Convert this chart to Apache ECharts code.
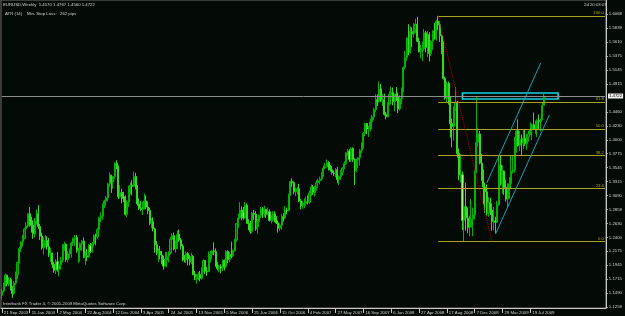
<!DOCTYPE html>
<html>
<head>
<meta charset="utf-8">
<script src="https://cdn.jsdelivr.net/npm/echarts@6.0.0/dist/echarts.min.js"></script>
<style>
  html, body { margin: 0; padding: 0; background: #040b07; }
  #chart { width: 625px; height: 316px; }
</style>
</head>
<body>
<div id="chart"></div>
<script>
// weekly EURUSD bars, [open, high, low, close], one list per year
var bars2003 = [
  [1.1450,1.1560,1.1380,1.1520],[1.1520,1.1660,1.1500,1.1600],[1.1600,1.1810,1.1580,1.1780],
  [1.1780,1.1790,1.1600,1.1640],[1.1640,1.1750,1.1600,1.1710],[1.1710,1.1740,1.1530,1.1560],
  [1.1560,1.1600,1.1410,1.1480],[1.1480,1.1680,1.1460,1.1650],[1.1650,1.1840,1.1620,1.1790],
  [1.1790,1.2000,1.1720,1.1990],[1.1990,1.2250,1.1970,1.2220],[1.2220,1.2340,1.2160,1.2330],
  [1.2330,1.2440,1.2250,1.2380],[1.2380,1.2560,1.2370,1.2540],[1.2540,1.2650,1.2460,1.2590]
];
var bars2004 = [
  [1.2590,1.2800,1.2560,1.2790],[1.2790,1.2900,1.2580,1.2620],[1.2620,1.2740,1.2480,1.2600],
  [1.2600,1.2680,1.2380,1.2460],[1.2460,1.2720,1.2400,1.2670],[1.2670,1.2860,1.2610,1.2790],
  [1.2790,1.2930,1.2540,1.2580],[1.2580,1.2620,1.2360,1.2420],[1.2420,1.2480,1.2200,1.2230],
  [1.2230,1.2400,1.2120,1.2320],[1.2320,1.2440,1.2240,1.2350],[1.2350,1.2420,1.2200,1.2250],
  [1.2250,1.2390,1.2080,1.2120],[1.2120,1.2230,1.2000,1.2140],[1.2140,1.2150,1.1900,1.1960],
  [1.1960,1.2000,1.1820,1.1860],[1.1860,1.2040,1.1800,1.2000],[1.2000,1.2160,1.1840,1.1880],
  [1.1880,1.1980,1.1760,1.1950],[1.1950,1.2080,1.1870,1.2030],[1.2030,1.2290,1.1990,1.2260],
  [1.2260,1.2330,1.2180,1.2290],[1.2290,1.2300,1.2000,1.2040],[1.2040,1.2180,1.1990,1.2130],
  [1.2130,1.2220,1.2060,1.2180],[1.2180,1.2330,1.2070,1.2310],[1.2310,1.2400,1.2260,1.2380],
  [1.2380,1.2440,1.2260,1.2400],[1.2400,1.2440,1.2150,1.2180],[1.2180,1.2230,1.1980,1.2190],
  [1.2190,1.2320,1.2000,1.2300],[1.2300,1.2360,1.2180,1.2340],[1.2340,1.2400,1.2060,1.2070],
  [1.2070,1.2170,1.1950,1.2100],[1.2100,1.2210,1.2010,1.2080],[1.2080,1.2290,1.2070,1.2270],
  [1.2270,1.2310,1.2140,1.2170],[1.2170,1.2320,1.2150,1.2300],[1.2300,1.2450,1.2250,1.2430],
  [1.2430,1.2460,1.2270,1.2410],[1.2410,1.2560,1.2370,1.2530],[1.2530,1.2740,1.2500,1.2720],
  [1.2720,1.2810,1.2650,1.2750],[1.2750,1.2960,1.2690,1.2940],[1.2940,1.3020,1.2880,1.3000],
  [1.3000,1.3080,1.2920,1.3050],[1.3050,1.3300,1.2990,1.3280],[1.3280,1.3470,1.3230,1.3420],
  [1.3420,1.3430,1.3130,1.3310],[1.3310,1.3410,1.3200,1.3400],[1.3400,1.3630,1.3360,1.3620],
  [1.3620,1.3667,1.3520,1.3560]
];
var bars2005 = [
  [1.3560,1.3580,1.3030,1.3070],[1.3070,1.3260,1.3040,1.3140],[1.3140,1.3200,1.2960,1.3070],
  [1.3070,1.3150,1.2980,1.3040],[1.3040,1.3090,1.2760,1.2780],[1.2780,1.3010,1.2730,1.2980],
  [1.2980,1.3250,1.2900,1.3230],[1.3230,1.3300,1.3110,1.3260],[1.3260,1.3340,1.3090,1.3240],
  [1.3240,1.3480,1.3230,1.3400],[1.3400,1.3460,1.3190,1.3220],[1.3220,1.3260,1.2920,1.2950],
  [1.2950,1.3040,1.2850,1.2880],[1.2880,1.3000,1.2830,1.2860],[1.2860,1.2990,1.2770,1.2880],
  [1.2880,1.3120,1.2860,1.3000],[1.3000,1.3090,1.2860,1.2900],[1.2900,1.2990,1.2780,1.2840],
  [1.2840,1.2890,1.2600,1.2630],[1.2630,1.2720,1.2550,1.2660],[1.2660,1.2730,1.2500,1.2540],
  [1.2540,1.2560,1.2150,1.2280],[1.2280,1.2340,1.2110,1.2140],[1.2140,1.2220,1.2000,1.2170],
  [1.2170,1.2260,1.2040,1.2110],[1.2110,1.2180,1.1960,1.2040],[1.2040,1.2100,1.1870,1.1930],
  [1.1930,1.2160,1.1920,1.2030],[1.2030,1.2160,1.1910,1.2090],[1.2090,1.2170,1.1990,1.2150],
  [1.2150,1.2410,1.2120,1.2370],[1.2370,1.2470,1.2290,1.2430],[1.2430,1.2480,1.2190,1.2210],
  [1.2210,1.2350,1.2150,1.2280],[1.2280,1.2510,1.2210,1.2450],[1.2450,1.2530,1.2330,1.2360],
  [1.2360,1.2390,1.2200,1.2260],[1.2260,1.2290,1.2010,1.2040],[1.2040,1.2110,1.1990,1.2030],
  [1.2030,1.2170,1.1980,1.2140],[1.2140,1.2160,1.1940,1.2050],[1.2050,1.2110,1.1940,1.2000],
  [1.2000,1.2150,1.1960,1.2090],[1.2090,1.2110,1.1780,1.1790],[1.1790,1.1850,1.1700,1.1720],
  [1.1720,1.1800,1.1640,1.1760],[1.1760,1.1830,1.1700,1.1790],[1.1790,1.1850,1.1680,1.1730],
  [1.1730,1.1910,1.1710,1.1850],[1.1850,1.2040,1.1830,1.2020],[1.2020,1.2030,1.1800,1.1850],
  [1.1850,1.1920,1.1770,1.1840]
];
var bars2006 = [
  [1.1840,1.2170,1.1830,1.2110],[1.2110,1.2180,1.1990,1.2120],[1.2120,1.2190,1.2040,1.2180],
  [1.2180,1.2320,1.2110,1.2170],[1.2170,1.2220,1.1920,1.1930],[1.1930,1.2000,1.1860,1.1890],
  [1.1890,1.1950,1.1830,1.1920],[1.1920,1.1960,1.1810,1.1900],[1.1900,1.2040,1.1850,1.2020],
  [1.2020,1.2040,1.1860,1.1920],[1.1920,1.2190,1.1900,1.2170],[1.2170,1.2190,1.1980,1.2040],
  [1.2040,1.2160,1.1990,1.2120],[1.2120,1.2330,1.2060,1.2100],[1.2100,1.2200,1.2080,1.2180],
  [1.2180,1.2380,1.2170,1.2360],[1.2360,1.2640,1.2330,1.2630],[1.2630,1.2790,1.2560,1.2720],
  [1.2720,1.2980,1.2700,1.2850],[1.2850,1.2910,1.2680,1.2810],[1.2810,1.2900,1.2690,1.2720],
  [1.2720,1.2980,1.2710,1.2930],[1.2930,1.2960,1.2620,1.2630],[1.2630,1.2700,1.2520,1.2620],
  [1.2620,1.2670,1.2460,1.2500],[1.2500,1.2820,1.2470,1.2800],[1.2800,1.2850,1.2690,1.2780],
  [1.2780,1.2830,1.2510,1.2540],[1.2540,1.2700,1.2460,1.2660],[1.2660,1.2780,1.2570,1.2760],
  [1.2760,1.2900,1.2720,1.2870],[1.2870,1.2900,1.2720,1.2790],[1.2790,1.2920,1.2740,1.2860],
  [1.2860,1.2860,1.2720,1.2780],[1.2780,1.2890,1.2760,1.2820],[1.2820,1.2860,1.2660,1.2680],
  [1.2680,1.2770,1.2630,1.2690],[1.2690,1.2830,1.2660,1.2790],[1.2790,1.2830,1.2650,1.2670],
  [1.2670,1.2750,1.2620,1.2640],[1.2640,1.2680,1.2480,1.2550],[1.2550,1.2630,1.2510,1.2600],
  [1.2600,1.2780,1.2530,1.2740],[1.2740,1.2800,1.2660,1.2720],[1.2720,1.2920,1.2700,1.2850],
  [1.2850,1.2890,1.2780,1.2840],[1.2840,1.3120,1.2830,1.3090],[1.3090,1.3330,1.3080,1.3320],
  [1.3320,1.3370,1.3230,1.3300],[1.3300,1.3320,1.3110,1.3150],[1.3150,1.3220,1.3080,1.3160],
  [1.3160,1.3230,1.3110,1.3200]
];
var bars2007 = [
  [1.3200,1.3280,1.2980,1.3000],[1.3000,1.3030,1.2860,1.2920],[1.2920,1.3000,1.2870,1.2950],
  [1.2950,1.3040,1.2880,1.2960],[1.2960,1.3070,1.2920,1.2990],[1.2990,1.3090,1.2940,1.2980],
  [1.2980,1.3170,1.2950,1.3130],[1.3130,1.3270,1.3080,1.3230],[1.3230,1.3260,1.3100,1.3140],
  [1.3140,1.3250,1.3070,1.3220],[1.3220,1.3340,1.3170,1.3300],[1.3300,1.3370,1.3260,1.3330],
  [1.3330,1.3400,1.3270,1.3360],[1.3360,1.3470,1.3330,1.3430],[1.3430,1.3580,1.3400,1.3540],
  [1.3540,1.3620,1.3520,1.3560],[1.3560,1.3680,1.3550,1.3630],[1.3630,1.3650,1.3500,1.3540],
  [1.3540,1.3590,1.3480,1.3510],[1.3510,1.3570,1.3430,1.3460],[1.3460,1.3500,1.3410,1.3450],
  [1.3450,1.3540,1.3390,1.3510],[1.3510,1.3560,1.3290,1.3350],[1.3350,1.3420,1.3260,1.3400],
  [1.3400,1.3510,1.3350,1.3470],[1.3470,1.3550,1.3420,1.3540],[1.3540,1.3650,1.3520,1.3610],
  [1.3610,1.3800,1.3590,1.3790],[1.3790,1.3850,1.3740,1.3820],[1.3820,1.3850,1.3640,1.3680],
  [1.3680,1.3880,1.3640,1.3860],[1.3860,1.3880,1.3640,1.3680],[1.3680,1.3700,1.3260,1.3500],
  [1.3500,1.3690,1.3470,1.3670],[1.3670,1.3720,1.3540,1.3710],[1.3710,1.3850,1.3580,1.3830],
  [1.3830,1.3960,1.3780,1.3880],[1.3880,1.4130,1.3860,1.4110],[1.4110,1.4280,1.4060,1.4270],
  [1.4270,1.4280,1.4100,1.4180],[1.4180,1.4230,1.4050,1.4210],[1.4210,1.4350,1.4140,1.4300],
  [1.4300,1.4410,1.4180,1.4380],[1.4380,1.4530,1.4330,1.4500],[1.4500,1.4750,1.4460,1.4660],
  [1.4660,1.4750,1.4560,1.4640],[1.4640,1.4960,1.4610,1.4840],[1.4840,1.4920,1.4630,1.4640],
  [1.4640,1.4760,1.4560,1.4660],[1.4660,1.4760,1.4400,1.4420],[1.4420,1.4460,1.4340,1.4380],
  [1.4380,1.4620,1.4370,1.4590]
];
var bars2008 = [
  [1.4590,1.4800,1.4560,1.4750],[1.4750,1.4880,1.4600,1.4780],[1.4780,1.4860,1.4570,1.4630],
  [1.4630,1.4760,1.4470,1.4750],[1.4750,1.4870,1.4640,1.4720],[1.4720,1.4780,1.4440,1.4510],
  [1.4510,1.4730,1.4480,1.4680],[1.4680,1.4860,1.4590,1.4830],[1.4830,1.5210,1.4790,1.5190],
  [1.5190,1.5460,1.5160,1.5350],[1.5350,1.5690,1.5300,1.5670],[1.5670,1.5900,1.5390,1.5440],
  [1.5440,1.5860,1.5420,1.5780],[1.5780,1.5850,1.5520,1.5740],[1.5740,1.5920,1.5680,1.5820],
  [1.5820,1.5990,1.5760,1.5900],[1.5900,1.6020,1.5610,1.5620],[1.5620,1.5680,1.5440,1.5450],
  [1.5450,1.5560,1.5340,1.5470],[1.5470,1.5620,1.5300,1.5500],[1.5500,1.5820,1.5480,1.5760],
  [1.5760,1.5790,1.5440,1.5520],[1.5520,1.5790,1.5360,1.5730],[1.5730,1.5770,1.5290,1.5420],
  [1.5420,1.5640,1.5380,1.5620],[1.5620,1.5800,1.5480,1.5790],[1.5790,1.5920,1.5650,1.5660],
  [1.5660,1.5970,1.5630,1.5950],[1.5950,1.6038,1.5800,1.5890],[1.5890,1.5950,1.5610,1.5710],
  [1.5710,1.5730,1.5410,1.5430],[1.5430,1.5620,1.4990,1.5010],[1.5010,1.5040,1.4660,1.4690],
  [1.4690,1.4960,1.4620,1.4930],[1.4930,1.4960,1.4580,1.4670],[1.4670,1.4720,1.4040,1.4270],
  [1.4270,1.4350,1.3880,1.4220],[1.4220,1.4550,1.3990,1.4510],[1.4510,1.4870,1.4480,1.4620],
  [1.4620,1.4640,1.3710,1.3780],[1.3780,1.3860,1.3340,1.3420],[1.3420,1.3770,1.3300,1.3430],
  [1.3430,1.3480,1.2520,1.2680],[1.2680,1.3300,1.2330,1.2910],[1.2910,1.3300,1.2510,1.2720],
  [1.2720,1.2890,1.2470,1.2560],[1.2560,1.2760,1.2420,1.2570],[1.2570,1.3030,1.2570,1.2700],
  [1.2700,1.2890,1.2420,1.2770],[1.2770,1.3510,1.2700,1.3490],[1.3490,1.4720,1.3450,1.3960],
  [1.3960,1.4200,1.3890,1.4100]
];
var bars2009 = [
  [1.4100,1.4150,1.3600,1.3620],[1.3620,1.3770,1.3330,1.3430],[1.3430,1.3520,1.2940,1.3230],
  [1.3230,1.3300,1.2800,1.3150],[1.3150,1.3270,1.2760,1.2800],[1.2800,1.3060,1.2740,1.2970],
  [1.2970,1.3050,1.2770,1.2850],[1.2850,1.2960,1.2510,1.2660],[1.2660,1.2900,1.2520,1.2670],
  [1.2670,1.2740,1.2470,1.2650],[1.2650,1.3000,1.2640,1.2940],[1.2940,1.3740,1.2920,1.3590],
  [1.3590,1.3740,1.3250,1.3280],[1.3280,1.3580,1.3120,1.3490],[1.3490,1.3500,1.3100,1.3220],
  [1.3220,1.3350,1.2990,1.3030],[1.3030,1.3290,1.2900,1.3260],[1.3260,1.3390,1.3040,1.3280],
  [1.3280,1.3740,1.3200,1.3490],[1.3490,1.3740,1.3450,1.3510],[1.3510,1.4050,1.3460,1.4000],
  [1.4000,1.4160,1.3790,1.4150],[1.4150,1.4340,1.3890,1.3910],[1.3910,1.4150,1.3820,1.4010],
  [1.4010,1.4090,1.3750,1.3950],[1.3950,1.4170,1.3850,1.4030],[1.4030,1.4170,1.3900,1.3940],
  [1.3940,1.4100,1.3840,1.4050],[1.4050,1.4150,1.3970,1.4100],[1.4100,1.4290,1.4080,1.4170],
  [1.4170,1.4270,1.4000,1.4250],[1.4250,1.4450,1.4170,1.4180],[1.4180,1.4320,1.4100,1.4190],
  [1.4190,1.4340,1.4050,1.4320],[1.4320,1.4420,1.4180,1.4300],[1.4300,1.4350,1.4140,1.4330],
  [1.4330,1.4620,1.4330,1.4570],[1.4570,1.4767,1.4560,1.4722]
];

// date labels under the chart, one every 16 bars
var dateLabels = ['21 Sep 2003','11 Jan 2004','2 May 2004','22 Aug 2004','12 Dec 2004','3 Apr 2005',
  '24 Jul 2005','13 Nov 2005','5 Mar 2006','25 Jun 2006','15 Oct 2006','4 Feb 2007','27 May 2007',
  '16 Sep 2007','6 Jan 2008','27 Apr 2008','17 Aug 2008','7 Dec 2008','29 Mar 2009','19 Jul 2009'];
var labelEvery = 16;
var slots = 348; // bars + empty shift area on the right

// price scale labels
var priceTicks = [1.1258,1.1490,1.1715,1.1945,1.2175,1.2400,1.2630,1.2858,1.3090,1.3315,1.3545,
  1.3775,1.4000,1.4230,1.4460,1.4915,1.5145,1.5375,1.5610,1.5839,1.6068];
var priceMin = 1.1242, priceMax = 1.6298;
var lastPrice = 1.4722;

// fibonacci retracement: anchors [bar, price]
var fibHigh = [251, 1.6038];
var fibLow = [282, 1.2330];
var fibLevels = [0, 23.6, 38.2, 50.0, 61.8, 100.0];

// channel trend lines [bar, price] -> [bar, price]
var channelUp = [[279, 1.3294], [310, 1.5264]];
var channelDown = [[284, 1.2457], [314.5, 1.4410]];
// resistance box
var boxFrom = [265, 1.4771], boxTo = [320, 1.4673];

var allBars = bars2003.concat(bars2004, bars2005, bars2006, bars2007, bars2008, bars2009);
var candles = allBars.map(function (b) { return [b[0], b[3], b[2], b[1]]; });
var cats = [];
for (var i = 0; i < slots; i++) cats.push(String(i));

function isLabel(i) {
  return i % labelEvery === 0 && i / labelEvery < dateLabels.length;
}

var fibColor = '#a6a618';
var fibLines = fibLevels.map(function (lv) {
  var p = fibLow[1] + (fibHigh[1] - fibLow[1]) * lv / 100;
  return [
    { coord: [fibHigh[0], p],
      label: { formatter: lv.toFixed(1) } },
    { coord: [slots - 1, p] }
  ];
});

var fs = 4.3;
var font = 'Liberation Sans';
var cssFont = fs + 'px "Liberation Sans"';
var txt = '#d2d2d2';

var markLines = fibLines.concat([
  [{ coord: fibHigh, lineStyle: { color: '#b00000', type: 'dotted', width: 1 }, label: { show: false } },
   { coord: fibLow }],
  [{ coord: channelUp[0], lineStyle: { color: '#0aa6b4', type: 'solid', width: 1 }, label: { show: false } },
   { coord: channelUp[1] }],
  [{ coord: channelDown[0], lineStyle: { color: '#0aa6b4', type: 'solid', width: 1 }, label: { show: false } },
   { coord: channelDown[1] }],
  [{ coord: [0, lastPrice], lineStyle: { color: '#8c8c8c', type: 'solid', width: 1 },
     label: { show: true, position: 'end', formatter: lastPrice.toFixed(4), color: '#000',
              backgroundColor: '#f0f0f0', padding: [1, 1, 0, 1], distance: 3, fontSize: fs,
              fontFamily: font } },
   { coord: [slots - 1, lastPrice] }]
]);

var chart = echarts.init(document.getElementById('chart'));

chart.setOption({
  backgroundColor: '#040b07',
  animation: false,
  grid: { left: 1, right: 17, top: 0, bottom: 8, show: true, borderColor: '#6e6e6e', borderWidth: 1 },
  xAxis: {
    type: 'category',
    data: cats,
    boundaryGap: true,
    axisLine: { lineStyle: { color: '#c8c8c8', width: 1 } },
    axisTick: { show: true, length: 5, alignWithLabel: true, interval: function (i) { return isLabel(i); },
                lineStyle: { color: '#c8c8c8' } },
    axisLabel: {
      interval: function (i) { return isLabel(i); },
      showMinLabel: true,
      hideOverlap: false,
      formatter: function (v, i) { return dateLabels[i / labelEvery]; },
      align: 'left', margin: 2.5, padding: [0, 0, 0, 2],
      color: txt, fontSize: fs, fontFamily: font
    },
    splitLine: { show: false }
  },
  yAxis: {
    type: 'value',
    position: 'right',
    min: priceMin,
    max: priceMax,
    scale: true,
    axisLine: { show: true, lineStyle: { color: '#c8c8c8', width: 1 } },
    axisTick: { show: true, length: 2, customValues: priceTicks, lineStyle: { color: '#c8c8c8' } },
    axisLabel: {
      customValues: priceTicks,
      formatter: function (v) { return v.toFixed(4); },
      margin: 3, color: txt, fontSize: fs, fontFamily: font
    },
    splitLine: { show: false }
  },
  series: [{
    type: 'candlestick',
    data: candles,
    barWidth: 1.6,
    itemStyle: {
      color: '#006a00',
      color0: '#a6ff8c',
      borderColor: '#00b000',
      borderColor0: '#34d824',
      borderWidth: 1
    },
    markLine: {
      silent: true,
      symbol: ['none', 'none'],
      animation: false,
      lineStyle: { color: fibColor, type: 'solid', width: 1 },
      label: { show: true, position: 'insideEndTop', distance: 1, color: fibColor, fontSize: fs, fontFamily: font },
      data: markLines
    },
    markArea: {
      silent: true,
      itemStyle: { color: 'rgba(0,0,0,0)', borderColor: '#12d2e2', borderWidth: 1.6 },
      data: [[{ coord: boxFrom }, { coord: boxTo }]]
    }
  }],
  graphic: [
    { type: 'text', left: 3, top: 2.5, style: { text: 'EURUSD,Weekly  1.4570 1.4767 1.4560 1.4722', fill: txt, font: cssFont } },
    { type: 'text', left: 5, top: 11.5, style: { text: 'ATR (14)', fill: txt, font: cssFont } },
    { type: 'text', left: 27, top: 11.5, style: { text: 'Min. Stop Loss:', fill: txt, font: cssFont } },
    { type: 'text', left: 60, top: 11.5, style: { text: '262 pips', fill: txt, font: cssFont } },
    { type: 'text', left: 584, top: 2.5, style: { text: '2d 20:03:07', fill: txt, font: cssFont } },
    { type: 'text', left: 3, top: 302, style: { text: 'Interbank FX Trader 4, \u00a9 2001-2009 MetaQuotes Software Corp.', fill: txt, font: cssFont } }
  ]
});
</script>
</body>
</html>
